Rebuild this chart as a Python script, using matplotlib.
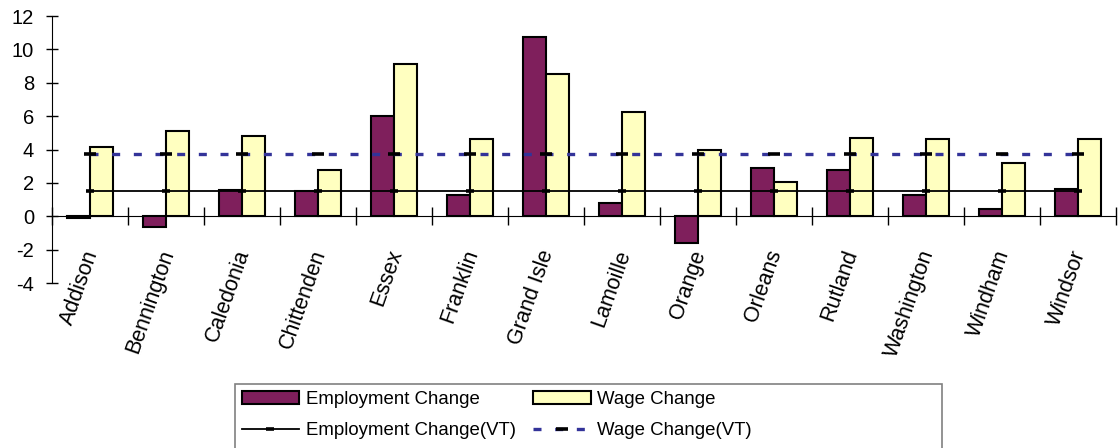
import numpy as np
import matplotlib
matplotlib.use("Agg")
import matplotlib.pyplot as plt
from matplotlib.patches import Rectangle

counties = ["Addison", "Bennington", "Caledonia", "Chittenden", "Essex", "Franklin",
            "Grand Isle", "Lamoille", "Orange", "Orleans", "Rutland", "Washington",
            "Windham", "Windsor"]
employment_change = [-0.1, -0.65, 1.6, 1.5, 6.0, 1.3, 10.75, 0.8, -1.6, 2.9, 2.8, 1.3, 0.45, 1.65]
wage_change = [4.15, 5.1, 4.8, 2.8, 9.15, 4.6, 8.5, 6.25, 3.95, 2.05, 4.7, 4.6, 3.2, 4.6]
employment_vt = 1.5
wage_vt = 3.75

plt.rcParams["font.family"] = ["Liberation Sans", "DejaVu Sans"]
plt.rcParams["font.size"] = 13.4
plt.rcParams["axes.unicode_minus"] = False

W, H = 1120, 448
fig = plt.figure(figsize=(W / 100, H / 100), dpi=100)
ax = fig.add_axes([52 / W, 1 - 283 / H, (1116 - 52) / W, (283 - 16) / H])

x = np.arange(len(counties))
w = 0.3
b1 = ax.bar(x - w / 2, employment_change, w, color="#7f1f5c", edgecolor="black", lw=1.5,
            label="Employment Change", zorder=2)
b2 = ax.bar(x + w / 2, wage_change, w, color="#ffffc0", edgecolor="black", lw=1.5,
            label="Wage Change", zorder=2)

l1, = ax.plot(x, [employment_vt] * len(x), color="black", lw=1.3, marker="_", ms=6,
              mew=2.6, mec="black", label="Employment Change(VT)", zorder=3)
l2, = ax.plot(x, [wage_vt] * len(x), color="#333399", lw=2.4, dashes=(2.4, 4.1),
              marker="_", ms=8.5, mew=2.6, mec="black", label="Wage Change(VT)", zorder=3)

ax.set_xlim(-0.5, len(counties) - 0.5)
ax.set_ylim(-4, 12)
ax.set_yticks(np.arange(-4, 13, 2))
ax.set_xticks(np.arange(-0.5, len(counties), 1))
ax.set_xticklabels([])
ax.tick_params(axis="y", direction="inout", length=9, width=1, pad=8.5, labelsize=14.5)
ax.tick_params(axis="x", direction="inout", length=13, width=1)

for s in ["top", "right"]:
    ax.spines[s].set_visible(False)
ax.spines["bottom"].set_position(("data", 0))
ax.spines["bottom"].set_zorder(1)

for i, name in enumerate(counties):
    ax.text(i - 0.1, -1.85, name, rotation=70.5, ha="right", va="top",
            rotation_mode="anchor", fontsize=15.5)

# legend: column-wise order gives rows (bar, bar) / (line, line)
leg = fig.legend([b1, l1, b2, l2],
                 ["Employment Change", "Employment Change(VT)", "Wage Change", "Wage Change(VT)"],
                 loc="upper left", bbox_to_anchor=(236 / W, 1 - 385 / H),
                 ncol=2, frameon=False, handlelength=3.1, handletextpad=0.37,
                 labelspacing=0.78, borderpad=0.3, borderaxespad=0,
                 columnspacing=0.9, fontsize=13.4)
fig.patches.append(Rectangle((235 / W, -0.1), (942 - 235) / W, 0.1 + (H - 384) / H,
                             transform=fig.transFigure, fill=False,
                             edgecolor="#808080", lw=1.2))

fig.savefig("out.png", dpi=100)
